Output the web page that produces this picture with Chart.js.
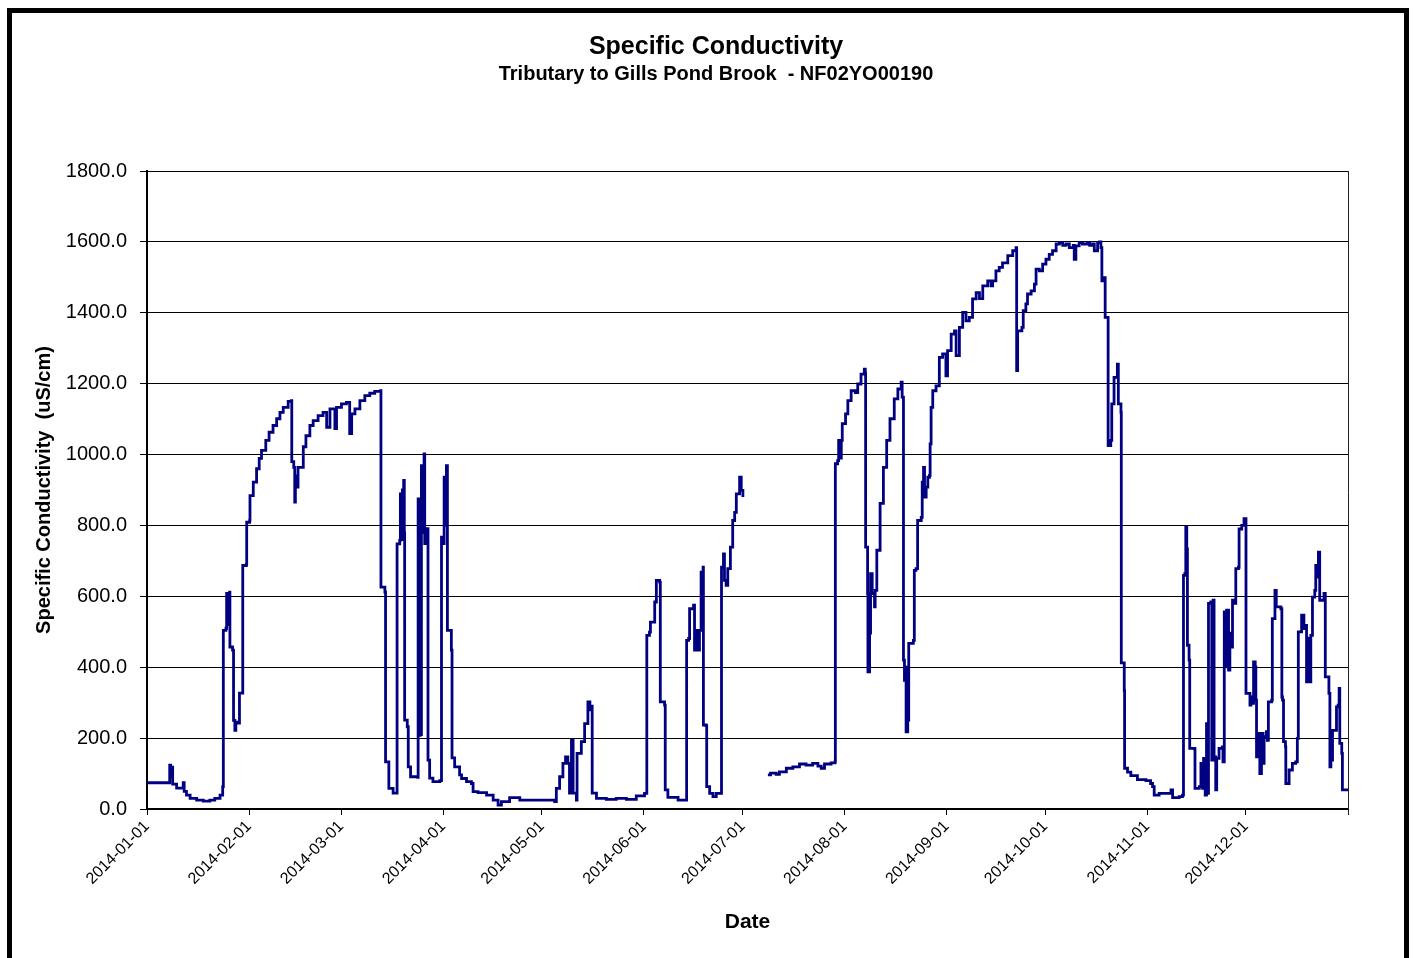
<!DOCTYPE html>
<html>
<head>
<meta charset="utf-8">
<title>Specific Conductivity</title>
<script src="https://cdn.jsdelivr.net/npm/chart.js@4.4.1/dist/chart.umd.min.js"></script>
<style>
  html, body { margin: 0; padding: 0; background: #ffffff; }
  canvas { display: block; }
</style>
</head>
<body>
<canvas id="chart" width="1413" height="958"></canvas>
<script>
// Days elapsed since 2014-01-01 for each logged reading
const dayOffsets = [
  0, 6.5, 6.9, 7.2, 7.5, 7.8, 8.9, 9.0, 10.8, 11.0,
  11.3, 12.0, 13.1, 15.1, 17.1, 19.1, 20.6, 22.2, 23.0, 23.2,
  24.0, 24.2, 24.5, 24.8, 25.1, 25.2, 26.0, 26.3, 26.7, 27.0,
  27.7, 28.1, 28.9, 29.1, 30.2, 30.3, 31.2, 31.3, 32.3, 33.3,
  34.1, 34.8, 36.1, 37.1, 38.3, 39.4, 40.4, 41.4, 42.9, 43.9,
  44.0, 44.6, 44.9, 45.1, 45.5, 45.9, 47.4, 47.5, 48.3, 49.5,
  50.5, 52.0, 53.5, 54.4, 54.6, 55.2, 55.6, 56.9, 57.1, 57.4,
  57.6, 59.1, 60.6, 61.4, 61.6, 62.0, 62.2, 63.2, 64.7, 66.2,
  67.7, 69.2, 71.0, 71.1, 72.3, 72.5, 73.4, 73.5, 74.8, 75.8,
  76.0, 76.8, 77.0, 77.3, 77.6, 78.0, 78.2, 78.3, 79.1, 79.4,
  80.1, 82.3, 82.4, 82.8, 83.0, 83.2, 83.4, 83.8, 84.2, 84.4,
  85.1, 85.4, 85.9, 86.9, 89.0, 89.5, 90.0, 90.3, 90.6, 91.0,
  91.3, 92.5, 92.7, 93.5, 95.0, 95.6, 97.1, 98.6, 99.1, 100.6,
  103.2, 105.2, 106.7, 107.7, 110.2, 113.3, 123.9, 124.4, 125.4, 126.4,
  127.2, 127.9, 128.4, 129.0, 129.5, 130.5, 130.7, 132.0, 133.0, 134.0,
  134.6, 135.1, 135.3, 136.6, 139.6, 142.6, 145.7, 148.7, 151.2, 151.9,
  152.7, 153.0, 154.3, 154.8, 155.8, 156.0, 157.3, 157.5, 158.3, 160.9,
  161.4, 163.9, 164.0, 164.6, 164.9, 166.1, 166.4, 166.9, 167.4, 167.9,
  168.4, 169.0, 169.1, 169.9, 170.1, 171.0, 172.0, 173.0, 174.5, 174.6,
  175.2, 175.5, 176.0, 176.5, 177.3, 178.0, 178.6, 179.1, 180.1, 180.6,
  181.1, 184.0, 188.7, 189.5, 191.2, 192.2, 194.3, 196.3, 198.3, 200.3,
  202.3, 203.9, 204.9, 205.9, 207.9, 209.1, 209.2, 209.9, 210.2, 210.6,
  211.0, 211.3, 212.3, 213.0, 214.0, 215.3, 216.0, 217.0, 218.0, 218.3,
  218.4, 219.0, 219.1, 219.6, 219.9, 220.4, 221.1, 221.3, 221.8, 222.8,
  223.8, 224.8, 225.8, 227.1, 228.2, 229.2, 229.5, 229.9, 230.2, 230.5,
  230.7, 231.2, 231.5, 232.9, 233.2, 233.7, 234.2, 235.3, 235.6, 236.0,
  236.3, 236.8, 237.3, 237.8, 238.0, 238.3, 238.8, 239.8, 240.8, 241.8,
  242.6, 242.8, 243.1, 243.3, 244.4, 245.4, 245.9, 246.2, 246.9, 247.9,
  248.9, 249.9, 250.9, 252.0, 253.0, 254.0, 255.5, 256.5, 257.0, 258.0,
  259.0, 260.0, 261.6, 263.1, 264.1, 264.3, 264.6, 265.9, 266.3, 267.1,
  267.6, 268.7, 269.7, 270.2, 271.2, 272.2, 273.2, 274.2, 275.2, 276.3,
  277.3, 278.3, 279.3, 280.3, 281.5, 281.8, 282.3, 283.3, 284.3, 285.8,
  286.5, 287.4, 287.9, 288.9, 289.5, 289.9, 290.2, 290.9, 291.2, 291.9,
  292.1, 292.9, 293.2, 293.9, 294.9, 295.2, 296.0, 296.1, 297.0, 297.1,
  298.0, 299.0, 301.0, 303.6, 305.0, 305.6, 306.1, 307.6, 310.7, 311.2,
  311.7, 313.7, 314.7, 315.0, 315.4, 315.7, 316.0, 316.2, 316.7, 316.9,
  318.3, 318.5, 319.8, 320.3, 320.8, 321.1, 321.6, 322.0, 322.3, 322.6,
  323.3, 323.6, 324.0, 324.3, 324.8, 325.1, 325.8, 326.8, 327.0, 327.4,
  327.7, 328.1, 328.7, 329.1, 329.4, 329.9, 330.7, 330.9, 331.7, 331.9,
  332.7, 333.4, 333.9, 334.0, 334.7, 335.2, 335.5, 336.0, 336.3, 336.8,
  337.0, 337.2, 337.7, 338.2, 338.7, 339.2, 339.5, 340.2, 340.5, 340.8,
  341.8, 342.0, 342.5, 342.8, 343.2, 344.6, 344.9, 345.1, 345.4, 346.0,
  346.1, 347.1, 348.1, 349.1, 349.6, 349.9, 350.6, 350.9, 351.6, 352.2,
  352.4, 352.8, 353.2, 353.7, 354.2, 354.9, 355.2, 355.7, 356.0, 356.4,
  357.7, 358.0, 358.1, 359.2, 359.5, 359.8, 360.1, 360.3, 361.3, 361.5,
  362.0, 362.3, 362.5, 363.1, 363.3, 364.9
];

// Specific conductivity (uS/cm) at each reading; null marks the logger outage in early July
const conductivity = [
  74, 74, 124, 91, 118, 70, 70, 59, 59, 74,
  50, 39, 30, 25, 22, 25, 30, 39, 63, 504,
  510, 608, 520, 600, 612, 457, 448, 250, 222, 245,
  242, 327, 327, 687, 690, 809, 815, 884, 922, 960,
  989, 1012, 1040, 1063, 1082, 1101, 1119, 1133, 1150, 1152,
  980, 964, 866, 940, 908, 964, 964, 1022, 1053, 1082,
  1096, 1110, 1119, 1119, 1077, 1077, 1129, 1129, 1073, 1073,
  1133, 1143, 1147, 1147, 1059, 1059, 1115, 1129, 1152, 1166,
  1173, 1178, 1180, 626, 612, 133, 133, 58, 45, 45,
  748, 758, 889, 760, 900, 927, 780, 251, 232, 119,
  91, 89, 875, 208, 700, 210, 969, 780, 1002, 749,
  791, 138, 87, 77, 80, 767, 749, 936, 800, 969,
  504, 448, 144, 119, 96, 86, 77, 72, 49, 46,
  39, 25, 11, 21, 32, 25, 21, 58, 91, 129,
  147, 129, 45, 194, 45, 25, 157, 190, 241, 302,
  280, 290, 45, 30, 27, 30, 27, 37, 44, 490,
  499, 527, 584, 645, 640, 302, 293, 54, 33, 33,
  25, 25, 476, 481, 565, 575, 448, 504, 448, 504,
  668, 682, 237, 235, 63, 44, 35, 44, 44, 682,
  720, 645, 631, 678, 739, 814, 837, 889, 936, 899,
  880, null, 96, 101, 98, 105, 115, 119, 127, 124,
  129, 121, 115, 127, 130, 133, 974, 983, 1040, 990,
  1040, 1087, 1115, 1152, 1180, 1175, 1199, 1227, 1241, 1230,
  739, 608, 387, 496, 664, 608, 570, 617, 730, 862,
  964, 1040, 1101, 1157, 1185, 1204, 1162, 420, 363, 400,
  218, 251, 467, 476, 673, 678, 814, 823, 922, 964,
  880, 908, 936, 941, 1030, 1133, 1180, 1194, 1274, 1284,
  1284, 1222, 1222, 1293, 1340, 1349, 1279, 1279, 1359, 1401,
  1377, 1387, 1439, 1457, 1440, 1476, 1490, 1476, 1490, 1518,
  1528, 1541, 1561, 1575, 1584, 1237, 1349, 1359, 1406, 1425,
  1453, 1462, 1481, 1523, 1518, 1537, 1551, 1565, 1575, 1594,
  1598, 1590, 1594, 1584, 1590, 1551, 1589, 1598, 1594, 1598,
  1590, 1594, 1575, 1598, 1600, 1584, 1490, 1499, 1387, 1387,
  1025, 1040, 1143, 1218, 1255, 1143, 1119, 412, 334, 115,
  104, 94, 83, 80, 72, 63, 39, 44, 44, 54,
  32, 35, 39, 659, 664, 795, 734, 462, 420, 171,
  170, 58, 63, 129, 58, 143, 39, 241, 44, 580,
  584, 138, 589, 147, 54, 143, 171, 175, 133, 556,
  401, 561, 392, 496, 457, 589, 580, 678, 682, 790,
  800, 819, 819, 326, 326, 293, 316, 298, 415, 401,
  307, 147, 213, 100, 213, 129, 204, 218, 194, 302,
  307, 537, 537, 617, 570, 565, 316, 307, 190, 175,
  72, 110, 129, 133, 199, 500, 500, 547, 509, 518,
  359, 482, 359, 490, 598, 617, 687, 654, 725, 589,
  608, 608, 373, 326, 119, 222, 138, 222, 222, 288,
  293, 340, 185, 157, 54, 58
];

// Month boundaries on the date axis (days since 2014-01-01) and their labels
const monthStartDays = [0, 31, 59, 90, 120, 151, 181, 212, 243, 273, 304, 334, 365];
const monthLabels = [
  '2014-01-01', '2014-02-01', '2014-03-01', '2014-04-01', '2014-05-01', '2014-06-01',
  '2014-07-01', '2014-08-01', '2014-09-01', '2014-10-01', '2014-11-01', '2014-12-01', ''
];

// Conductivity axis ticks
const conductivityTicks = [0, 200, 400, 600, 800, 1000, 1200, 1400, 1600, 1800];

const chartTitle = 'Specific Conductivity';
const chartSubtitle = 'Tributary to Gills Pond Brook  - NF02YO00190';

const points = dayOffsets.map((d, i) => ({ x: d, y: conductivity[i] }));

const FONT_FAMILY = "'Liberation Sans', Arial, Helvetica, sans-serif";
Chart.defaults.font.family = FONT_FAMILY;
Chart.defaults.color = '#000000';

// Heavy outer frame, heading lines and the right edge of the plot box
const framePlugin = {
  id: 'frame',
  beforeDraw(chart) {
    const ctx = chart.ctx;
    ctx.save();
    ctx.fillStyle = '#ffffff';
    ctx.fillRect(0, 0, chart.width, chart.height);
    ctx.restore();
  },
  afterDraw(chart) {
    const ctx = chart.ctx;
    const a = chart.chartArea;
    ctx.save();
    ctx.strokeStyle = '#000000';
    ctx.lineWidth = 5;
    ctx.strokeRect(9.5, 10.5, 1397, 1100);

    ctx.lineWidth = 1;
    ctx.strokeStyle = '#222222';
    ctx.beginPath();
    ctx.moveTo(a.right + 0.5, a.top);
    ctx.lineTo(a.right + 0.5, a.bottom + 5);
    ctx.stroke();

    // heading, centred a little right of the figure centre
    ctx.fillStyle = '#000000';
    ctx.textAlign = 'center';
    ctx.textBaseline = 'middle';
    ctx.font = 'bold 25px ' + FONT_FAMILY;
    ctx.fillText(chartTitle, 716, 47);
    ctx.font = 'bold 20px ' + FONT_FAMILY;
    ctx.fillText(chartSubtitle, 716, 74);
    ctx.restore();
  }
};

new Chart(document.getElementById('chart'), {
  type: 'line',
  data: {
    datasets: [{
      label: chartTitle,
      data: points,
      borderColor: '#000080',
      backgroundColor: '#000080',
      borderWidth: 2.8,
      pointRadius: 0,
      stepped: 'before',
      spanGaps: false,
      fill: false
    }]
  },
  options: {
    responsive: false,
    animation: false,
    devicePixelRatio: 1,
    layout: { padding: { left: 0, right: 65, top: 171, bottom: 0 } },
    plugins: {
      legend: { display: false },
      tooltip: { enabled: false },
      title: { display: false },
      subtitle: { display: false }
    },
    scales: {
      x: {
        type: 'linear',
        min: 0,
        max: 365,
        afterFit: (scale) => { scale.height = 149; },
        afterBuildTicks: (scale) => {
          scale.ticks = monthStartDays.map(v => ({ value: v }));
        },
        ticks: {
          autoSkip: false,
          minRotation: 45,
          maxRotation: 45,
          padding: 2,
          color: '#000000',
          font: { size: 16 },
          callback: (value, index) => monthLabels[index]
        },
        grid: {
          drawOnChartArea: false,
          drawTicks: true,
          tickLength: 6,
          color: '#000000',
          lineWidth: 1
        },
        border: { color: '#000000', width: 2 },
        title: {
          display: true,
          text: 'Date',
          color: '#000000',
          font: { size: 21, weight: 'bold' },
          padding: { top: 0, bottom: 23 }
        }
      },
      y: {
        min: 0,
        max: 1800,
        afterFit: (scale) => { scale.width = 147; },
        afterBuildTicks: (scale) => {
          scale.ticks = conductivityTicks.map(v => ({ value: v }));
        },
        ticks: {
          padding: 13,
          color: '#000000',
          font: { size: 20 },
          callback: (value) => Number(value).toFixed(1)
        },
        grid: {
          color: '#000000',
          lineWidth: 1,
          drawTicks: true,
          tickLength: 7
        },
        border: { color: '#000000', width: 2 },
        title: {
          display: true,
          text: 'Specific Conductivity  (uS/cm)',
          color: '#000000',
          font: { size: 20, weight: 'bold' },
          padding: { top: 32, bottom: 0 }
        }
      }
    }
  },
  plugins: [framePlugin]
});
</script>
</body>
</html>
